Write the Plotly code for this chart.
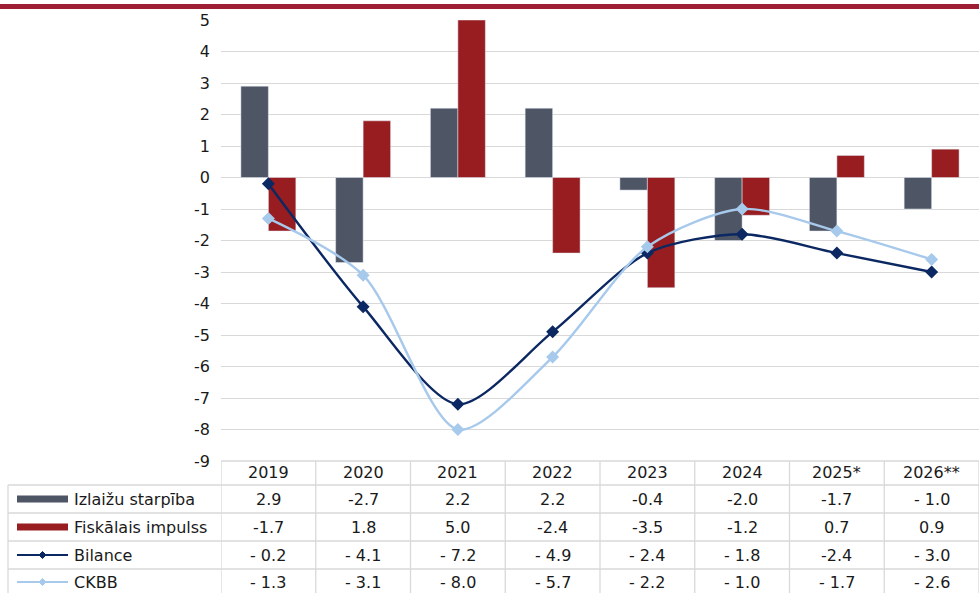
import plotly.graph_objects as go

years = ["2019", "2020", "2021", "2022", "2023", "2024", "2025*", "2026**"]
izlaizu = [2.9, -2.7, 2.2, 2.2, -0.4, -2.0, -1.7, -1.0]
fiskalais = [-1.7, 1.8, 5.0, -2.4, -3.5, -1.2, 0.7, 0.9]
bilance = [-0.2, -4.1, -7.2, -4.9, -2.4, -1.8, -2.4, -3.0]
ckbb = [-1.3, -3.1, -8.0, -5.7, -2.2, -1.0, -1.7, -2.6]

izlaizu_txt = ["2.9", "-2.7", "2.2", "2.2", "-0.4", "-2.0", "-1.7", "- 1.0"]
fiskalais_txt = ["-1.7", "1.8", "5.0", "-2.4", "-3.5", "-1.2", "0.7", "0.9"]
bilance_txt = ["- 0.2", "- 4.1", "- 7.2", "- 4.9", "- 2.4", "- 1.8", "-2.4", "- 3.0"]
ckbb_txt = ["- 1.3", "- 3.1", "- 8.0", "- 5.7", "- 2.2", "- 1.0", "- 1.7", "- 2.6"]

series_names = ["Izlaižu starpība", "Fiskālais impulss", "Bilance", "CKBB"]
yticks = list(range(-9, 6))

C_GRAY = "#4E5564"
C_RED = "#981D21"
C_NAVY = "#0B2862"
C_LIGHT = "#A7C9EB"
C_BANNER = "#9E1F33"
C_GRID = "#D9D9D9"
FONT = "DejaVu Sans"
FS = 16

W, H = 979, 593
L, R, T, B = 221, 0, 20, 132
PW, PH = W - L - R, H - T - B


def px(x):
    return (x - L) / PW


def py(y):
    return (H - B - y) / PH


fig = go.Figure()
fig.add_trace(go.Bar(x=years, y=izlaizu, name=series_names[0], marker_color=C_GRAY))
fig.add_trace(go.Bar(x=years, y=fiskalais, name=series_names[1], marker_color=C_RED))
fig.add_trace(go.Scatter(x=years, y=bilance, name=series_names[2], mode="lines+markers",
                         line=dict(color=C_NAVY, width=2.4, shape="spline", smoothing=0.8),
                         marker=dict(symbol="diamond", size=10, color=C_NAVY)))
fig.add_trace(go.Scatter(x=years, y=ckbb, name=series_names[3], mode="lines+markers",
                         line=dict(color=C_LIGHT, width=2.4, shape="spline", smoothing=0.8),
                         marker=dict(symbol="diamond", size=10, color=C_LIGHT)))

shapes = []
annotations = []

# banner bar at top
shapes.append(dict(type="rect", xref="paper", yref="paper", x0=px(0), x1=px(W), y0=py(9), y1=py(4),
                   fillcolor=C_BANNER, line_width=0, layer="above"))

# table geometry (pixels)
row_tops = [461, 485, 513, 541, 569, 597]
row_centers = [(row_tops[i] + row_tops[i + 1]) / 2 for i in range(5)]
row_centers[0] = 472
row_centers[-1] = 582
line_style = dict(color=C_GRID, width=1.3)
txt_font = dict(family=FONT, size=FS, color="#1A1A1A")

# horizontal lines
shapes.append(dict(type="line", xref="paper", yref="paper", x0=px(L), x1=px(W), y0=py(461), y1=py(461), line=line_style))
for yy in row_tops[1:5]:
    shapes.append(dict(type="line", xref="paper", yref="paper", x0=px(8), x1=px(W), y0=py(yy), y1=py(yy), line=line_style))
# vertical lines
shapes.append(dict(type="line", xref="paper", yref="paper", x0=px(8), x1=px(8), y0=py(485), y1=py(H), line=line_style))
for k in range(len(years) + 1):
    shapes.append(dict(type="line", xref="x", yref="paper", x0=k - 0.5, x1=k - 0.5, y0=py(461), y1=py(H), line=line_style))

# header years
for i, yr in enumerate(years):
    annotations.append(dict(x=i, xref="x", y=py(row_centers[0]), yref="paper", text=yr, showarrow=False,
                            font=txt_font, xanchor="center", yanchor="middle"))

rows = [izlaizu_txt, fiskalais_txt, bilance_txt, ckbb_txt]
for r, vals in enumerate(rows):
    yc = row_centers[r + 1]
    for i, v in enumerate(vals):
        annotations.append(dict(x=i, xref="x", y=py(yc), yref="paper", text=v, showarrow=False,
                                font=txt_font, xanchor="center", yanchor="middle"))
    annotations.append(dict(x=px(72), xref="paper", y=py(yc), yref="paper", text=series_names[r], showarrow=False,
                            font=txt_font, xanchor="left", yanchor="middle"))

# legend keys
for r, col in enumerate([C_GRAY, C_RED]):
    yc = row_centers[r + 1]
    shapes.append(dict(type="rect", xref="paper", yref="paper", x0=px(17), x1=px(68), y0=py(yc + 3.5), y1=py(yc - 3.5),
                       fillcolor=col, line_width=0))
for r, col in [(2, C_NAVY), (3, C_LIGHT)]:
    yc = row_centers[r + 1]
    shapes.append(dict(type="line", xref="paper", yref="paper", x0=px(17), x1=px(68), y0=py(yc), y1=py(yc),
                       line=dict(color=col, width=2.2)))
    cx, d = 42.5, 3.5
    path = "M {} {} L {} {} L {} {} L {} {} Z".format(px(cx - d), py(yc), px(cx), py(yc - d), px(cx + d), py(yc), px(cx), py(yc + d))
    shapes.append(dict(type="path", xref="paper", yref="paper", path=path, fillcolor=col, line=dict(color=col, width=1)))

fig.update_layout(
    width=W, height=H,
    margin=dict(l=L, r=R, t=T, b=B, autoexpand=False),
    paper_bgcolor="white", plot_bgcolor="white",
    barmode="group", bargap=0.42, bargroupgap=0.0,
    showlegend=False,
    shapes=shapes, annotations=annotations,
    xaxis=dict(type="category", categoryorder="array", categoryarray=years, range=[-0.5, len(years) - 0.5],
               showticklabels=False, showgrid=False, zeroline=False, showline=False, ticks=""),
    yaxis=dict(range=[-9, 5], tickvals=yticks, ticktext=[str(v) for v in yticks],
               showgrid=True, gridcolor=C_GRID, gridwidth=1.3, zeroline=True, zerolinecolor=C_GRID,
               zerolinewidth=1.3, showline=False, ticks="",
               tickfont=txt_font, ticklabelstandoff=10),
)

fig.write_html("out.html", config={"displayModeBar": False},
               post_script="document.body.style.margin='0';document.body.style.overflow='hidden';")
